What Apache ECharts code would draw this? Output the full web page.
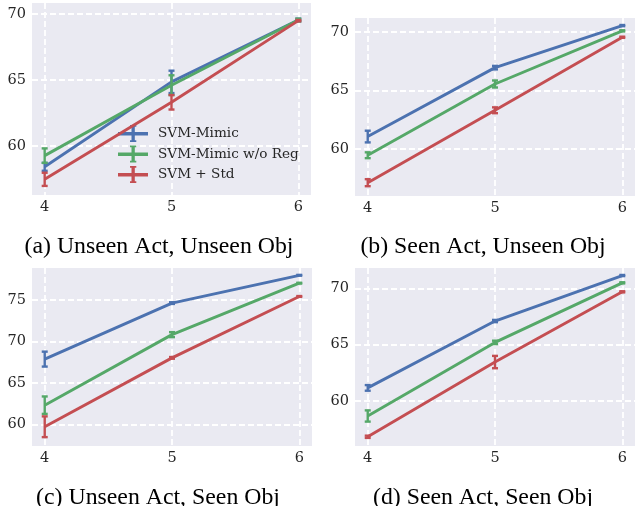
<!DOCTYPE html>
<html><head><meta charset="utf-8">
<script src="https://cdn.jsdelivr.net/npm/echarts@6/dist/echarts.min.js"></script>
<style>html,body{margin:0;padding:0;background:#fff}#c{width:636px;height:506px}</style>
</head><body><div id="c"></div>
<script>
const xVals = [4, 5, 6];
const xTicks = [4, 5, 6];
const seriesNames = ['SVM-Mimic', 'SVM-Mimic w/o Reg', 'SVM + Std'];
const captions = ['(a) Unseen Act, Unseen Obj', '(b) Seen Act, Unseen Obj', '(c) Unseen Act, Seen Obj', '(d) Seen Act, Seen Obj'];

// (a) Unseen Act, Unseen Obj
const a_mimic = [58.4, 64.85, 69.55];   const a_mimic_err = [0.3, 0.85, 0.1];
const a_noreg = [59.25, 64.6, 69.55];   const a_noreg_err = [0.55, 0.75, 0.1];
const a_std   = [57.45, 63.3, 69.5];    const a_std_err   = [0.5, 0.55, 0.05];
const a_yTicks = [60, 65, 70];
// (b) Seen Act, Unseen Obj
const b_mimic = [61.05, 66.95, 70.55];  const b_mimic_err = [0.5, 0.15, 0.05];
const b_noreg = [59.45, 65.55, 70.1];   const b_noreg_err = [0.25, 0.3, 0.05];
const b_std   = [57.1, 63.3, 69.55];    const b_std_err   = [0.3, 0.25, 0.05];
const b_yTicks = [60, 65, 70];
// (c) Unseen Act, Seen Obj
const c_mimic = [67.85, 74.6, 77.95];   const c_mimic_err = [0.9, 0.1, 0.05];
const c_noreg = [62.3, 70.8, 77.0];     const c_noreg_err = [1.05, 0.3, 0.05];
const c_std   = [59.7, 68.0, 75.4];     const c_std_err   = [1.25, 0.1, 0.05];
const c_yTicks = [60, 65, 70, 75];
// (d) Seen Act, Seen Obj
const d_mimic = [61.15, 67.1, 71.15];   const d_mimic_err = [0.25, 0.1, 0.05];
const d_noreg = [58.65, 65.2, 70.5];    const d_noreg_err = [0.5, 0.15, 0.05];
const d_std   = [56.8, 63.45, 69.7];    const d_std_err   = [0.1, 0.55, 0.05];
const d_yTicks = [60, 65, 70];

const panels = [
  {vals: [a_mimic, a_noreg, a_std], errs: [a_mimic_err, a_noreg_err, a_std_err], yTicks: a_yTicks, yMin: 56.26, yMax: 70.84,
   grid: {left: 32, top: 3, width: 279, height: 192}, cap: {x: 154, y: 230}},
  {vals: [b_mimic, b_noreg, b_std], errs: [b_mimic_err, b_noreg_err, b_std_err], yTicks: b_yTicks, yMin: 55.96, yMax: 71.2,
   grid: {left: 355, top: 18, width: 280, height: 178}, cap: {x: 478, y: 230}},
  {vals: [c_mimic, c_noreg, c_std], errs: [c_mimic_err, c_noreg_err, c_std_err], yTicks: c_yTicks, yMin: 57.38, yMax: 78.83,
   grid: {left: 32, top: 268, width: 280, height: 178}, cap: {x: 153, y: 481}},
  {vals: [d_mimic, d_noreg, d_std], errs: [d_mimic_err, d_noreg_err, d_std_err], yTicks: d_yTicks, yMin: 55.98, yMax: 71.82,
   grid: {left: 355, top: 268, width: 280, height: 178}, cap: {x: 478, y: 481}}
];
const colors = ['#4C72B0', '#55A868', '#C44E52'];

function renderErr(params, api) {
  const x = api.value(0), lo = api.value(1), hi = api.value(2);
  const p1 = api.coord([x, hi]), p2 = api.coord([x, lo]);
  const c = api.visual('color');
  const w = 3;
  const st = {stroke: c, lineWidth: 2.4};
  return {type: 'group', children: [
    {type: 'line', shape: {x1: p1[0], y1: p1[1], x2: p2[0], y2: p2[1]}, style: st},
    {type: 'line', shape: {x1: p1[0] - w, y1: p1[1], x2: p1[0] + w, y2: p1[1]}, style: st},
    {type: 'line', shape: {x1: p2[0] - w, y1: p2[1], x2: p2[0] + w, y2: p2[1]}, style: st}
  ]};
}

const grids = [], xAxes = [], yAxes = [], series = [], titles = [];
const labelStyle = {color: '#262626', fontFamily: 'DejaVu Serif', fontSize: 14.5};
const splitStyle = {show: true, lineStyle: {color: '#ffffff', width: 1.8, type: [6, 3]}};
panels.forEach((p, i) => {
  grids.push(Object.assign({show: true, backgroundColor: '#EAEAF2', borderWidth: 0}, p.grid));
  xAxes.push({type: 'value', gridIndex: i, min: 3.9, max: 6.1,
    axisLine: {show: false}, axisTick: {show: false, customValues: xTicks},
    axisLabel: Object.assign({customValues: xTicks, margin: 5}, labelStyle),
    splitLine: splitStyle});
  yAxes.push({type: 'value', gridIndex: i, min: p.yMin, max: p.yMax,
    axisLine: {show: false}, axisTick: {show: false, customValues: p.yTicks},
    axisLabel: Object.assign({customValues: p.yTicks, margin: 6}, labelStyle),
    splitLine: splitStyle});
  titles.push({text: captions[i], left: p.cap.x, top: p.cap.y, textAlign: 'center',
    textStyle: {fontFamily: 'Liberation Serif', fontSize: 23.8, fontWeight: 'normal', color: '#000'}});
  for (let k = 0; k < 3; k++) {
    series.push({type: 'line', name: seriesNames[k], xAxisIndex: i, yAxisIndex: i,
      data: xVals.map((x, j) => [x, p.vals[k][j]]), showSymbol: false, symbol: 'none',
      lineStyle: {color: colors[k], width: 2.9}, itemStyle: {color: colors[k]}, z: 2 + k, animation: false});
    series.push({type: 'custom', name: seriesNames[k], xAxisIndex: i, yAxisIndex: i,
      data: xVals.map((x, j) => [x, p.vals[k][j] - p.errs[k][j], p.vals[k][j] + p.errs[k][j]]),
      renderItem: renderErr, itemStyle: {color: colors[k]}, z: 2 + k, animation: false, clip: false});
  }
});

const icon = 'path://M0,7 L30,7 L30,10.5 L0,10.5 Z M13.5,0 L16.8,0 L16.8,17 L13.5,17 Z M12,0 L18.3,0 L18.3,1.8 L12,1.8 Z M12,15.2 L18.3,15.2 L18.3,17 L12,17 Z';
const chart = echarts.init(document.getElementById('c'), null, {renderer: 'canvas'});
chart.setOption({
  animation: false,
  title: titles,
  grid: grids, xAxis: xAxes, yAxis: yAxes, series: series,
  legend: {data: seriesNames.map((n, k) => ({name: n, icon: icon, itemStyle: {color: colors[k]}})),
    orient: 'vertical', left: 113, top: 120, itemWidth: 30, itemHeight: 17, itemGap: 3.5,
    selectedMode: false,
    textStyle: {fontFamily: 'DejaVu Serif', fontSize: 13.6, color: '#262626', padding: [0, 0, 0, 5]}}
});
</script></body></html>
